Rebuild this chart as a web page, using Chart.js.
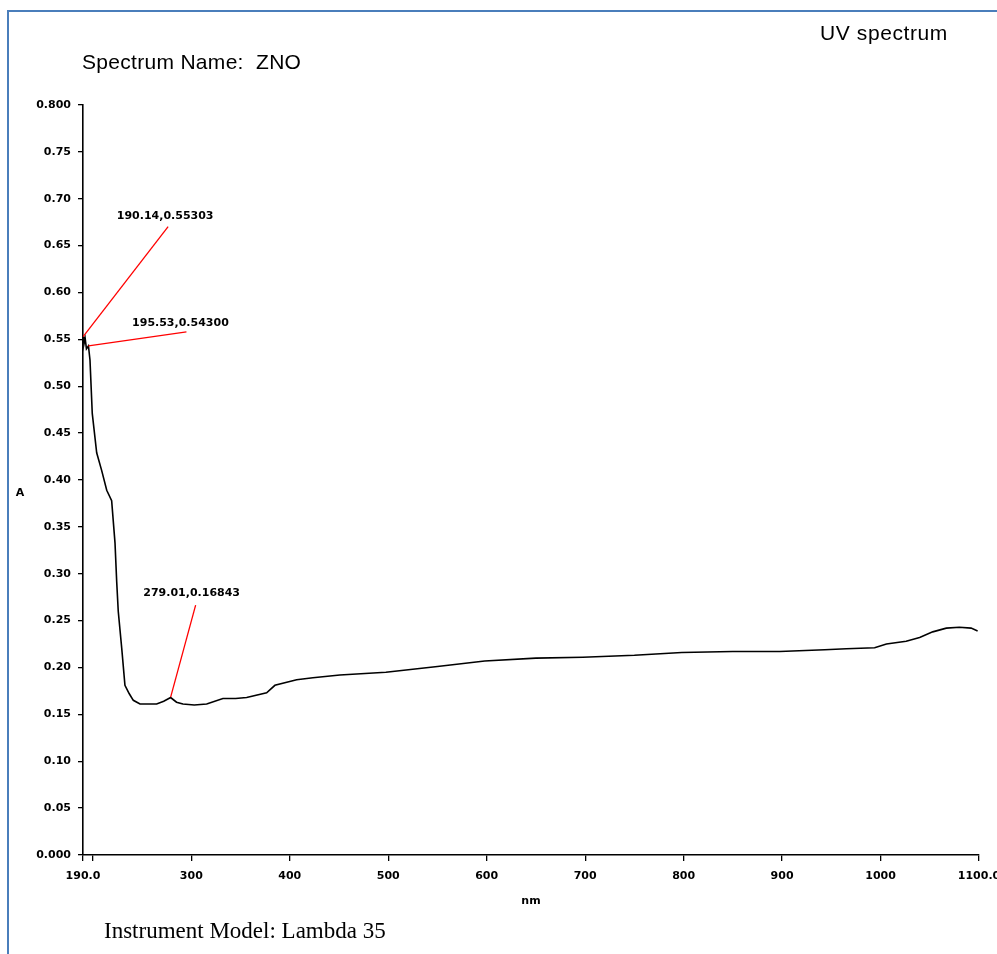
<!DOCTYPE html>
<html>
<head>
<meta charset="utf-8">
<script src="https://cdn.jsdelivr.net/npm/chart.js@4.4.0/dist/chart.umd.min.js"></script>
<style>
  html, body { margin: 0; padding: 0; background: #fff; }
  #wrap { width: 997px; height: 954px; }
</style>
</head>
<body>
<div id="wrap"><canvas id="chart" width="997" height="954"></canvas></div>
<script>
// spectrum (nm, absorbance)
const wavelength = [190.14, 191.0, 192.2, 193.5, 195.53, 197.1, 199.4, 203.9, 209.0, 214.1, 219.1, 222.5, 224.2, 225.8, 229.3, 232.6, 237, 241.1, 247.9, 256, 264.8, 272, 279.01, 285, 291.5, 303, 315.6, 332.1, 345, 356.2, 376.5, 384.9, 407, 423.5, 450.9, 497.6, 550, 598, 650, 697.6, 750, 798.1, 850, 897.6, 943.3, 965.3, 994, 1006, 1026, 1039.7, 1053, 1066.8, 1080, 1092, 1098.6];
const absorbance = [0.553, 0.545, 0.551, 0.540, 0.543, 0.528, 0.471, 0.429, 0.410, 0.389, 0.378, 0.333, 0.292, 0.260, 0.221, 0.181, 0.172, 0.165, 0.161, 0.161, 0.161, 0.164, 0.168, 0.163, 0.161, 0.160, 0.161, 0.167, 0.167, 0.168, 0.173, 0.181, 0.187, 0.189, 0.192, 0.195, 0.201, 0.207, 0.210, 0.211, 0.213, 0.216, 0.217, 0.217, 0.219, 0.220, 0.221, 0.225, 0.228, 0.232, 0.238, 0.242, 0.243, 0.242, 0.239];

// peak picks
const peakX = [190.14, 195.53, 279.01];
const peakY = [0.55303, 0.54300, 0.16843];
const peakLabels = ["190.14,0.55303", "195.53,0.54300", "279.01,0.16843"];

const xTicks = [190, 200, 300, 400, 500, 600, 700, 800, 900, 1000, 1100];
const yTicks = [0, 0.05, 0.1, 0.15, 0.2, 0.25, 0.3, 0.35, 0.4, 0.45, 0.5, 0.55, 0.6, 0.65, 0.7, 0.75, 0.8];

// leader line end / label centre offsets (px) from each peak
const leaderEnd = [[85, -110], [98, -14], [25, -92]];
const labelPos = [[82, -120], [92, -23], [21, -104]];

const tickFont = { family: "'DejaVu Sans'", size: 11, weight: "bold" };

const pagePlugin = {
  id: "page",
  beforeDraw(chart) {
    const ctx = chart.ctx;
    ctx.save();
    ctx.fillStyle = "#fff";
    ctx.fillRect(0, 0, chart.width, chart.height);
    ctx.strokeStyle = "#4a7ebb";
    ctx.lineWidth = 2;
    ctx.beginPath();
    ctx.moveTo(8, chart.height);
    ctx.lineTo(8, 11);
    ctx.lineTo(chart.width, 11);
    ctx.stroke();
    ctx.restore();
  },
  afterDraw(chart) {
    const ctx = chart.ctx;
    ctx.save();
    ctx.fillStyle = "#000";
    ctx.textBaseline = "middle";
    ctx.textAlign = "left";
    ctx.font = "21px 'Liberation Sans'";
    ctx.letterSpacing = "0.6px";
    ctx.fillText("UV spectrum", 820, 34);
    ctx.letterSpacing = "0.3px";
    ctx.fillText("Spectrum Name:  ZNO", 82, 63);
    ctx.letterSpacing = "0px";
    ctx.font = "23px 'Liberation Serif'";
    ctx.fillText("Instrument Model: Lambda 35", 104, 932);
    ctx.font = "bold 11px 'DejaVu Sans'";
    ctx.textAlign = "center";
    ctx.fillText("A", 20, 493);

    // peak annotations
    const xs = chart.scales.x, ys = chart.scales.y;
    ctx.font = "bold 11px 'DejaVu Sans'";
    peakX.forEach((v, i) => {
      const px = xs.getPixelForValue(v);
      const py = ys.getPixelForValue(peakY[i]);
      ctx.strokeStyle = "#ff0000";
      ctx.lineWidth = 1.3;
      ctx.beginPath();
      ctx.moveTo(px, py);
      ctx.lineTo(px + leaderEnd[i][0], py + leaderEnd[i][1]);
      ctx.stroke();
      ctx.fillStyle = "#000";
      ctx.fillText(peakLabels[i], px + labelPos[i][0], py + labelPos[i][1]);
    });
    ctx.restore();
  },
};

new Chart(document.getElementById("chart"), {
  type: "line",
  data: {
    datasets: [
      {
        data: wavelength.map((w, i) => ({ x: w, y: absorbance[i] })),
        borderColor: "#000",
        borderWidth: 1.6,
        pointRadius: 0,
        tension: 0,
        fill: false,
      },
    ],
  },
  options: {
    responsive: false,
    animation: false,
    events: [],
    layout: { padding: { left: 0, top: 105, right: 18, bottom: 38 } },
    plugins: { legend: { display: false }, tooltip: { enabled: false } },
    scales: {
      x: {
        type: "linear",
        min: 190,
        max: 1100,
        afterBuildTicks: (s) => {
          s.ticks = xTicks.map((v) => ({ value: v }));
        },
        afterFit: (s) => {
          s.height = 61;
          s.paddingLeft = 0;
          s.paddingRight = 0;
        },
        ticks: {
          autoSkip: false,
          maxRotation: 0,
          color: "#000",
          font: tickFont,
          padding: 9,
          callback: (v) => (v === 190 ? "190.0" : v === 1100 ? "1100.0" : v === 200 ? "" : String(v)),
        },
        grid: { drawOnChartArea: false, tickLength: 6, color: "#000", lineWidth: 1.3 },
        border: { color: "#000", width: 1.6 },
        title: {
          display: true,
          text: "nm",
          color: "#000",
          font: tickFont,
          padding: { top: 2, bottom: 8 },
        },
      },
      y: {
        min: 0,
        max: 0.8,
        afterBuildTicks: (s) => {
          s.ticks = yTicks.map((v) => ({ value: v }));
        },
        afterFit: (s) => {
          s.width = 83;
        },
        ticks: {
          color: "#000",
          font: tickFont,
          padding: 7,
          callback: (v) => (v === 0 ? "0.000" : v === 0.8 ? "0.800" : v.toFixed(2)),
        },
        grid: { drawOnChartArea: false, tickLength: 5, color: "#000", lineWidth: 1.3 },
        border: { color: "#000", width: 1.6 },
      },
    },
  },
  plugins: [pagePlugin],
});
</script>
</body>
</html>
